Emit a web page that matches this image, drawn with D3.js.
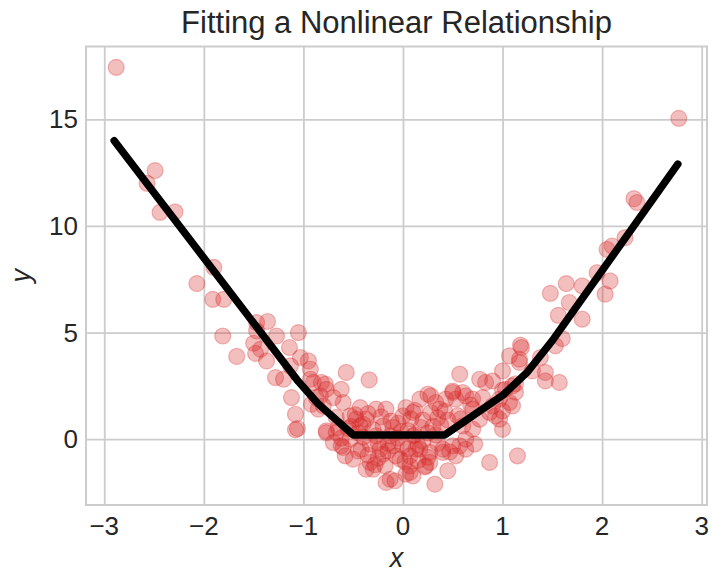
<!DOCTYPE html>
<html>
<head>
<meta charset="utf-8">
<script src="https://cdn.jsdelivr.net/npm/d3@7"></script>
<style>
  html, body { margin: 0; padding: 0; background: #fff; }
  svg { display: block; }
  text { font-family: "Liberation Sans", Arial, sans-serif; fill: #262626; }
</style>
</head>
<body>
<svg id="chart" width="712" height="573"></svg>
<script>
const title = "Fitting a Nonlinear Relationship";
const xLabel = "x";
const yLabel = "y";
const xTicks = [-3, -2, -1, 0, 1, 2, 3];
const yTicks = [0, 5, 10, 15];

// scatter points (x values, y values)
const pointsX = [
  -2.88, -2.49, -2.57, -2.44, -2.29, -1.90, -2.07, -1.91, -1.80, -1.81,
  -1.67, -1.47, -1.36, -1.47, -1.27, -1.50, -1.43, -1.48, -1.37, -1.28,
  -1.20, -1.14, -1.05, -1.03, -0.95, -0.93, -1.13, -1.12, -1.08, -1.08,
  -1.06, -0.93, -0.92, -0.85, -0.90, -0.82, -0.87, -0.80, -0.77, -0.77,
  -0.57, -0.34, -0.78, -0.62, -0.83, -0.70, -0.60, -0.43, -0.27, -0.17,
   0.03,  0.10, -0.77, -0.65, -0.70, -0.62, -0.53, -0.50, -0.42, -0.33,
  -0.30, -0.23, -0.13, -0.08, -0.17, -0.03,  0.07,  0.03, -0.10,  0.00,
  -0.37, -0.20, -0.43, -0.27, -0.13, -0.33, -0.20, -0.07,  0.13,  0.10,
  -0.58, -0.37, -0.47, -0.67, -0.53, -0.60, -0.67,  0.07,
   0.57,  1.18,  1.07,  1.17,  0.77,  0.90,  1.00,  1.00,  0.87,  1.15,
   0.32,  0.45,  0.27,  0.40,  0.50,  0.63,  0.70,  0.77,  0.53,  0.63,
   0.50,  0.43,  0.28,  0.17,  0.12,  0.37,  0.70,  0.90,  0.97,  1.03,
   1.10,  0.93,  0.97,  1.10,  0.83,  0.25,  0.50,  0.60,  0.33,  0.70,
   0.87,  1.00,  1.07,  0.23,  0.10,  0.53,  0.63,  0.72,  0.57,  0.60,
   0.17,  0.27,  0.40,  0.07,
   1.48,  1.64,  1.80,  1.67,  1.56,  1.80,  1.60,  1.53,  1.95,  2.03,
   1.19,  1.17,  1.38,  1.30,  1.43,  1.43,  1.57,  1.13,  1.00,  2.08,
   1.13,  2.77,  2.32,  2.35,  2.23,  2.05,  2.10,
  -0.45, -0.15,  0.05,  0.20,  0.25, -0.05,  0.15, -0.25,  0.30,  0.45,
  -0.55,  0.00,  0.20, -0.35,  0.35,
  -0.48, -0.40, -0.30, -0.22, -0.12, -0.02,  0.08,  0.18,  0.28,  0.38,
  -0.45, -0.35, -0.25, -0.15, -0.05,  0.05,  0.15,  0.25,  0.35,  0.47,
  -0.40, -0.28, -0.10,  0.02,  0.12,  0.22,  0.33,  0.55, -0.18,  0.42,
   0.68,  0.80,  0.58, -0.62, -0.52
];
const pointsY = [
  17.44, 12.60, 12.00, 10.64, 10.66,  8.06,  7.30,  6.56,  6.56,  4.84,
   3.88,  5.47,  5.52,  5.08,  4.84,  4.50,  4.22,  4.02,  3.67,  2.89,
   2.81,  4.30,  5.00,  3.83,  3.67,  3.28,  3.44,  1.95,  1.17,  0.44,
   0.50,  2.81,  1.64,  1.41,  2.66,  2.66,  1.95,  1.56,  0.31,  2.34,
   3.13,  2.78,  2.58,  2.34,  2.03,  1.95,  1.72,  1.48,  1.41,  1.41,
   1.48,  1.25,  0.39,  0.55, -0.16, -0.31,  0.00, -0.94, -0.47, -1.09,
  -1.41, -0.47, -1.88, -1.95, -2.03, -0.94, -1.25, -1.64, -0.31,  1.09,
   0.94,  0.62,  0.62,  0.16,  0.16, -0.23, -0.70, -0.78, -0.47,  0.16,
  -0.78, -1.41,  0.94,  1.02,  1.09, -0.39,  0.31, -1.56,
   3.05,  4.41,  3.91,  3.75,  2.81,  2.73,  3.20,  0.47, -1.09, -0.78,
  -2.11, -1.48, -1.09, -0.62, -0.31,  0.00,  0.47,  0.94,  1.88,  2.03,
   2.26,  1.88,  2.03,  1.88,  1.35,  1.41,  1.41,  1.56,  1.88,  2.34,
   1.56,  1.09,  0.94,  2.50,  2.66,  2.11,  2.19,  2.19,  1.72,  1.88,
   1.25,  1.33,  1.72, -1.25, -1.72, -0.78, -0.47, -0.23, -0.31,  0.62,
  -0.47, -0.62, -0.47, -0.78,
   6.84,  7.30,  7.19,  6.41,  5.81,  5.63,  4.72,  4.38,  7.81,  6.80,
   4.30,  3.60,  3.83,  3.20,  3.13,  2.73,  2.66,  2.60,  2.30,  7.42,
   2.20, 15.05, 11.28, 11.10,  9.45,  8.90,  9.06,
   0.30, -0.20,  0.40,  0.90,  0.30,  0.75, -1.00, -0.90,  0.60,  0.90,
   0.50, -0.30, -0.10,  1.20,  1.00,
   1.15,  0.70,  0.45,  1.05,  0.85,  0.35,  0.95,  0.55,  1.25,  0.65,
  -0.55, -0.75, -0.15, -0.55,  0.05, -0.45, -0.25, -0.85, -0.20, -0.60,
   0.10, -1.20,  0.55, -1.05,  0.20, -1.30,  0.20,  1.10, -1.25,  1.30,
   1.60,  1.95,  0.95,  0.05,  0.60
];

// fitted line
const fitX = [-2.90, -1.05, -0.85, -0.50, 0.42, 1.00, 1.25, 1.50, 2.76];
const fitY = [14.00, 2.70, 1.65, 0.20, 0.20, 2.05, 3.15, 4.62, 12.90];

const points = pointsX.map((x, i) => ({x, y: pointsY[i]}));
const fit = fitX.map((x, i) => ({x, y: fitY[i]}));

const svg = d3.select("#chart");
const L = 86, R = 707, T = 46.5, B = 505;

const allX = pointsX.concat(fitX), allY = pointsY.concat(fitY);
const [x0, x1] = d3.extent(allX), [y0, y1] = d3.extent(allY);
const px = (x1 - x0) * 0.05, py = (y1 - y0) * 0.05;
const x = d3.scaleLinear().domain([x0 - px, x1 + px]).range([L, R]);
const y = d3.scaleLinear().domain([y0 - py, y1 + py]).range([B, T]);

// grid
const g = svg.append("g");
g.append("g").attr("transform", `translate(0,${B})`)
  .call(d3.axisBottom(x).tickValues(xTicks).tickSize(-(B - T)).tickFormat(""))
  .call(s => s.select(".domain").remove())
  .call(s => s.selectAll("line").attr("stroke", "#cccccc").attr("stroke-width", 1.8));
g.append("g").attr("transform", `translate(${L},0)`)
  .call(d3.axisLeft(y).tickValues(yTicks).tickSize(-(R - L)).tickFormat(""))
  .call(s => s.select(".domain").remove())
  .call(s => s.selectAll("line").attr("stroke", "#cccccc").attr("stroke-width", 1.8));

// points
svg.append("g").selectAll("circle").data(points).join("circle")
  .attr("cx", d => x(d.x)).attr("cy", d => y(d.y)).attr("r", 8)
  .attr("fill", "rgba(214,39,40,0.3)")
  .attr("stroke", "rgba(214,39,40,0.3)").attr("stroke-width", 1.2);

// fitted line
svg.append("path").datum(fit)
  .attr("d", d3.line().x(d => x(d.x)).y(d => y(d.y)))
  .attr("fill", "none").attr("stroke", "#000").attr("stroke-width", 7.5)
  .attr("stroke-linejoin", "round").attr("stroke-linecap", "round");

// frame
svg.append("rect").attr("x", L).attr("y", T).attr("width", R - L).attr("height", B - T)
  .attr("fill", "none").attr("stroke", "#cccccc").attr("stroke-width", 2);

// tick labels
const fmt = d => d < 0 ? "\u2212" + Math.abs(d) : String(d);
svg.append("g").selectAll("text").data(xTicks).join("text")
  .attr("x", d => x(d)).attr("y", 535).attr("text-anchor", "middle")
  .style("font-size", "26px").text(fmt);
svg.append("g").selectAll("text").data(yTicks).join("text")
  .attr("x", 78).attr("y", d => y(d)).attr("dy", "0.35em").attr("text-anchor", "end")
  .style("font-size", "26px").text(fmt);

// axis labels
svg.append("text").attr("x", (L + R) / 2).attr("y", 567).attr("text-anchor", "middle")
  .style("font-size", "27px").style("font-style", "italic").text(xLabel);
svg.append("text").attr("transform", `translate(30,${(T + B) / 2}) rotate(-90)`)
  .attr("text-anchor", "middle")
  .style("font-size", "27px").style("font-style", "italic").text(yLabel);

// title
svg.append("text").attr("x", (L + R) / 2).attr("y", 33).attr("text-anchor", "middle")
  .style("font-size", "31px").text(title);
</script>
</body>
</html>
